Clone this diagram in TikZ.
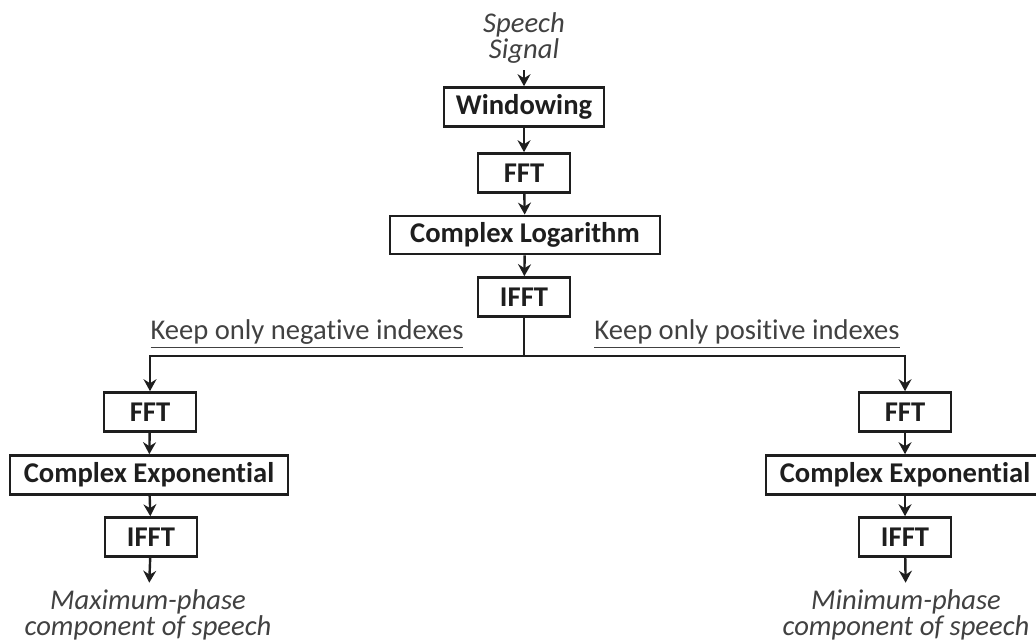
\documentclass[tikz,border=0pt]{standalone}
\usepackage{fontspec}
\setmainfont{Carlito}[Ligatures=NoCommon]
\usetikzlibrary{positioning, arrows.meta}
\definecolor{ink}{RGB}{30,30,30}
\definecolor{note}{RGB}{65,65,65}

\begin{document}
\begin{tikzpicture}[x=0.5pt, y=-0.5pt, font=\fontsize{14.3}{13}\selectfont,
  blk/.style={draw=ink, line width=1.3pt, text=ink, font=\fontsize{14.3}{13}\selectfont\bfseries, minimum height=19.5pt, inner xsep=4pt},
  io/.style={text=note, font=\fontsize{14.3}{13}\selectfont\itshape, align=center},
  lbl/.style={text=note},
  ar/.style={-{Stealth[length=6pt, width=6.5pt, inset=2pt]}, line width=1.2pt, ink}]
\clip (0,0) rectangle (1036,640);

\node[io] at (524,38) (sig) {Speech\\Signal};
\node[blk, minimum width=80pt] at (524,107) (win) {Windowing};
\node[blk, minimum width=46pt] at (524,173) (fft) {FFT};
\node[blk, minimum width=135pt, minimum height=18pt] at (525,235) (log) {Complex Logarithm};
\node[blk, minimum width=46pt] at (524,297) (ifft) {IFFT};
\coordinate (split) at (524,356);

% main chain
\draw[ar] (sig) -- (win);
\draw[ar] (win) -- (fft);
\draw[ar] (fft) -- (log);
\draw[ar] (log) -- (ifft);

% the two branches
\node[lbl] at (307,334) (neg) {\underline{Keep only negative indexes}};
\node[lbl] at (747,334) (pos) {\underline{Keep only positive indexes}};

\node[blk, minimum width=46pt] at (150,412) (lfft) {FFT};
\node[blk, minimum width=139pt] at (149,475) (lexp) {Complex Exponent\kern0pt ial};
\node[blk, minimum width=46pt] at (151,537) (lifft) {IFFT};
\node[io] at (148,615) (lout) {Maximum-phase\\component of speech};

\node[blk, minimum width=46pt] at (905,412) (rfft) {FFT};
\node[blk, minimum width=139pt] at (905,475) (rexp) {Complex Exponent\kern0pt ial};
\node[blk, minimum width=46pt] at (905,537) (rifft) {IFFT};
\node[io] at (906,615) (rout) {Minimum-phase\\component of speech};

\draw[line width=1.2pt, ink] (ifft.south) -- (split);
\draw[ar] (split) -| (lfft.north);
\draw[ar] (split) -| (rfft.north);

\draw[ar] (lfft) -- (lexp);
\draw[ar] (lexp) -- (lifft);
\draw[ar] (lifft) -- (lout);
\draw[ar] (rfft) -- (rexp);
\draw[ar] (rexp) -- (rifft);
\draw[ar] (rifft) -- (rout);
\end{tikzpicture}
\end{document}
